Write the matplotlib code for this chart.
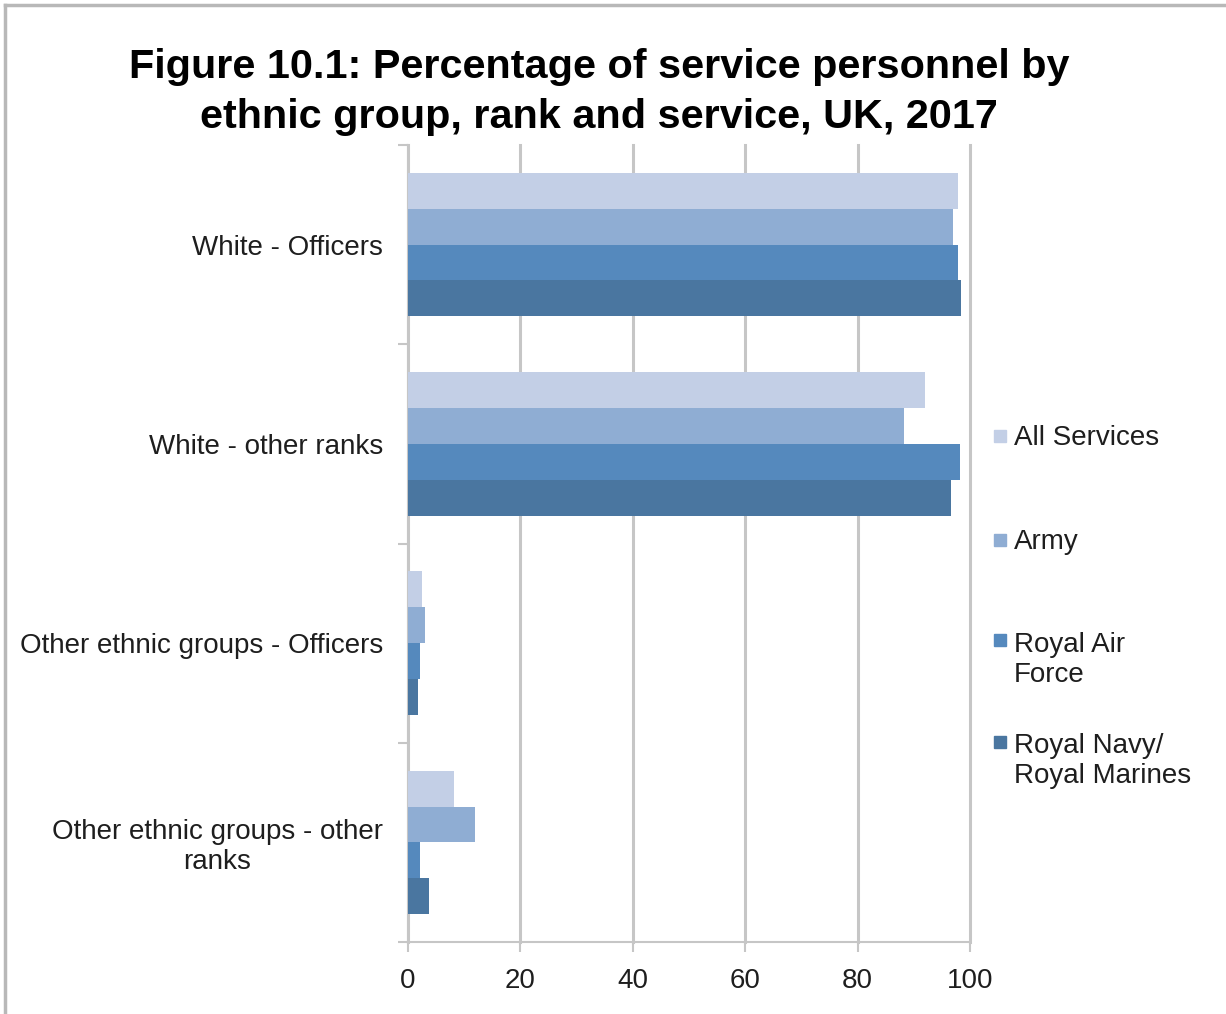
import numpy as np
import matplotlib
matplotlib.use('Agg')
import matplotlib.pyplot as plt
from matplotlib.patches import Rectangle
from matplotlib.lines import Line2D

plt.rcParams['font.family'] = ['Liberation Sans', 'DejaVu Sans']

# 数据
categories = ['White - Officers', 'White - other ranks',
              'Other ethnic groups - Officers', 'Other ethnic groups - other\nranks']
services = ['All Services', 'Army', 'Royal Air\nForce', 'Royal Navy/\nRoyal Marines']
all_services = [97.9, 92.0, 2.5, 8.2]
army = [97.0, 88.3, 3.0, 12.0]
raf = [97.9, 98.2, 2.1, 2.1]
navy = [98.4, 96.6, 1.8, 3.8]
colors = ['#c3cfe6', '#8fadd3', '#5589bd', '#4a76a0']
xticks = [0, 20, 40, 60, 80, 100]

W, H = 1226, 1014
fig = plt.figure(figsize=(W / 100, H / 100), dpi=100)
ax = fig.add_axes([408 / W, 1 - 942 / H, 562 / W, 797 / H])

grey = '#c6c6c6'
series = [all_services, army, raf, navy]
bh = 0.18
y = np.arange(len(categories))
for j, vals in enumerate(series):
    ax.barh(y + (j - 1.5) * bh, vals, height=bh, color=colors[j],
            edgecolor='none', zorder=3)

ax.set_xlim(0, 100)
ax.set_ylim(3.5, -0.5)
ax.set_xticks(xticks)
ax.set_xticklabels([str(t) for t in xticks], fontsize=20, color='#1e1e1e')
ax.set_yticks(y)
ax.set_yticklabels(categories, fontsize=20, color='#1e1e1e', multialignment='center')
ax.set_yticks(np.arange(-0.5, 4.0, 1.0), minor=True)
ax.tick_params(axis='y', which='major', length=0, pad=18)
ax.tick_params(axis='y', which='minor', length=7, width=1.5, color=grey)
ax.tick_params(axis='x', length=7, width=1.5, color=grey, pad=12)
ax.grid(axis='x', color=grey, linewidth=2.2, zorder=0)
for gl in ax.get_xgridlines():
    gl.set_clip_on(False)
for s in ['top', 'right']:
    ax.spines[s].set_visible(False)
for s in ['left', 'bottom']:
    ax.spines[s].set_color(grey)
    ax.spines[s].set_linewidth(1.5)

# 标题
fig.text(599 / W, 1 - 92 / H,
         'Figure 10.1: Percentage of service personnel by\nethnic group, rank and service, UK, 2017',
         ha='center', va='center', fontsize=29.8, fontweight='bold', linespacing=1.38)

# 图例（手动放置）
text_y = [438, 542, 660, 761]
box_y = [436, 540, 640, 742]
for lab, c, ty, by in zip(services, colors, text_y, box_y):
    fig.patches.append(Rectangle((994 / W, 1 - (by + 6) / H), 12 / W, 12 / H,
                                 transform=fig.transFigure, color=c))
    fig.text(1014 / W, 1 - ty / H, lab, ha='left', va='center', fontsize=20,
             color='#1e1e1e', linespacing=1.2)

# 外框
fig.add_artist(Line2D([5 / W, 1], [1 - 5 / H, 1 - 5 / H], color='#b8b8b8', lw=2.5,
                      transform=fig.transFigure))
fig.add_artist(Line2D([5 / W, 5 / W], [0, 1 - 5 / H], color='#b8b8b8', lw=2.5,
                      transform=fig.transFigure))

fig.savefig('out.png', dpi=100)
